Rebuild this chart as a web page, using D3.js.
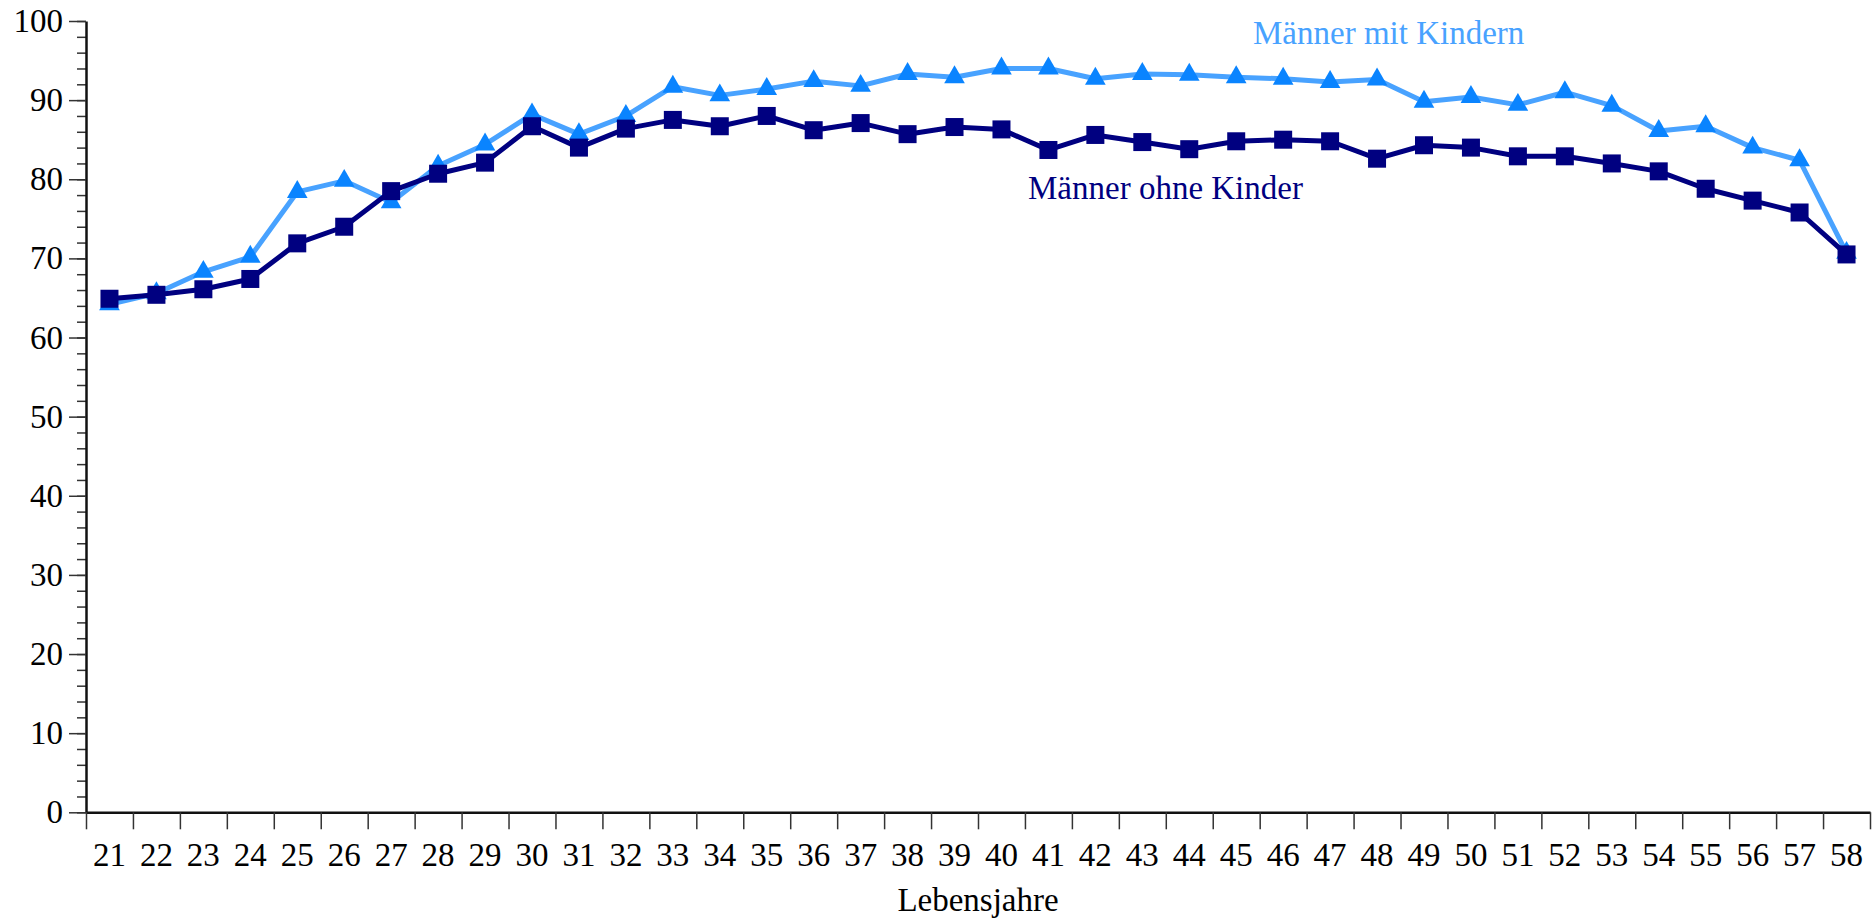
<!DOCTYPE html>
<html lang="de">
<head>
  <meta charset="UTF-8">
  <title>Männer mit / ohne Kinder</title>
  <script src="https://cdn.jsdelivr.net/npm/d3@7"></script>
  <style>
    body { margin: 0; background: #fff; }
    svg { display: block; font-family: "Liberation Serif", "Times New Roman", serif; }
  </style>
</head>
<body>
<script>
  // Lebensjahre 21..58
  const ages = [21,22,23,24,25,26,27,28,29,30,31,32,33,34,35,36,37,38,39,
                40,41,42,43,44,45,46,47,48,49,50,51,52,53,54,55,56,57,58];

  const mitKindern = [64.2,65.6,68.3,70.2,78.4,79.8,77.1,81.7,84.4,88.2,85.7,88.0,91.7,90.6,91.4,92.4,91.8,93.3,92.9,94.0,
                      94.0,92.7,93.3,93.2,92.9,92.7,92.3,92.6,89.8,90.4,89.4,91.0,89.3,86.1,86.7,84.0,82.4,70.7];

  const ohneKinder = [64.9,65.4,66.1,67.4,71.9,74.0,78.5,80.7,82.1,86.7,84.0,86.4,87.5,86.7,88.0,86.2,87.1,85.7,86.6,86.3,
                      83.7,85.6,84.7,83.8,84.8,85.0,84.8,82.6,84.3,84.0,82.9,82.9,82.0,81.0,78.8,77.3,75.8,70.5];

  const yTicks = [0,10,20,30,40,50,60,70,80,90,100];

  const width = 1872, height = 919;
  const m = { left: 86, right: 1870, top: 21, bottom: 812.3 };
  const lightLine = "#48a2ff", lightMark = "#0a84ff", dark = "#000080";

  const svg = d3.select("body").append("svg")
    .attr("width", width)
    .attr("height", height);

  const x = d3.scaleBand().domain(ages).range([m.left, m.right]).padding(0);
  const xEdge = d3.scaleLinear().domain([0, ages.length]).range([m.left, m.right]);
  const y = d3.scaleLinear().domain([0, 100]).range([m.bottom, m.top]);
  const cx = d => x(d) + x.bandwidth() / 2;

  // y axis: minor ticks every 2
  svg.append("g")
    .attr("transform", `translate(${m.left},0)`)
    .call(d3.axisLeft(y).tickValues(d3.range(0, 101, 2)).tickSize(9).tickFormat(""))
    .call(g => g.select(".domain").remove())
    .call(g => g.selectAll("line").attr("stroke", "#333").attr("stroke-width", 1.5));

  svg.append("g")
    .attr("transform", `translate(${m.left},0)`)
    .call(d3.axisLeft(y).tickValues(yTicks).tickSize(17).tickPadding(6).tickSizeOuter(0))
    .call(g => g.select(".domain").attr("stroke", "#111").attr("stroke-width", 2.5))
    .call(g => g.selectAll("line").attr("stroke", "#333").attr("stroke-width", 1.5))
    .call(g => g.selectAll("text").attr("font-size", 33).attr("fill", "#000")
                .attr("font-family", "Liberation Serif, serif"));

  // x axis: ticks on band edges, labels centered
  svg.append("g")
    .attr("transform", `translate(0,${m.bottom})`)
    .call(d3.axisBottom(xEdge).tickValues(d3.range(0, ages.length + 1)).tickSize(17).tickFormat("").tickSizeOuter(0))
    .call(g => g.select(".domain").attr("stroke", "#111").attr("stroke-width", 2.5))
    .call(g => g.selectAll("line").attr("stroke", "#333").attr("stroke-width", 1.5));

  svg.append("g")
    .attr("transform", `translate(0,${m.bottom})`)
    .call(d3.axisBottom(x).tickSize(0).tickPadding(30))
    .call(g => g.select(".domain").remove())
    .call(g => g.selectAll("text").attr("font-size", 33).attr("fill", "#000")
                .attr("font-family", "Liberation Serif, serif"));

  svg.append("text")
    .attr("x", (m.left + m.right) / 2)
    .attr("y", 911)
    .attr("text-anchor", "middle")
    .attr("font-size", 33)
    .text("Lebensjahre");

  const line = d3.line().x((d, i) => cx(ages[i])).y(d => y(d));

  // Männer mit Kindern
  svg.append("path")
    .datum(mitKindern)
    .attr("fill", "none")
    .attr("stroke", lightLine)
    .attr("stroke-width", 5)
    .attr("stroke-linejoin", "round")
    .attr("d", line);

  svg.append("g").selectAll("path")
    .data(mitKindern)
    .enter().append("path")
    .attr("d", d3.symbol(d3.symbolTriangle, 185))
    .attr("transform", (d, i) => `translate(${cx(ages[i])},${y(d)})`)
    .attr("fill", lightMark);

  // Männer ohne Kinder
  svg.append("path")
    .datum(ohneKinder)
    .attr("fill", "none")
    .attr("stroke", dark)
    .attr("stroke-width", 5)
    .attr("stroke-linejoin", "round")
    .attr("d", line);

  svg.append("g").selectAll("rect")
    .data(ohneKinder)
    .enter().append("rect")
    .attr("x", (d, i) => cx(ages[i]) - 9)
    .attr("y", d => y(d) - 9)
    .attr("width", 18)
    .attr("height", 18)
    .attr("fill", dark);

  svg.append("text")
    .attr("x", 1253)
    .attr("y", 44)
    .attr("font-size", 33)
    .attr("fill", lightLine)
    .text("Männer mit Kindern");

  svg.append("text")
    .attr("x", 1028)
    .attr("y", 199)
    .attr("font-size", 33)
    .attr("fill", dark)
    .text("Männer ohne Kinder");
</script>
</body>
</html>
